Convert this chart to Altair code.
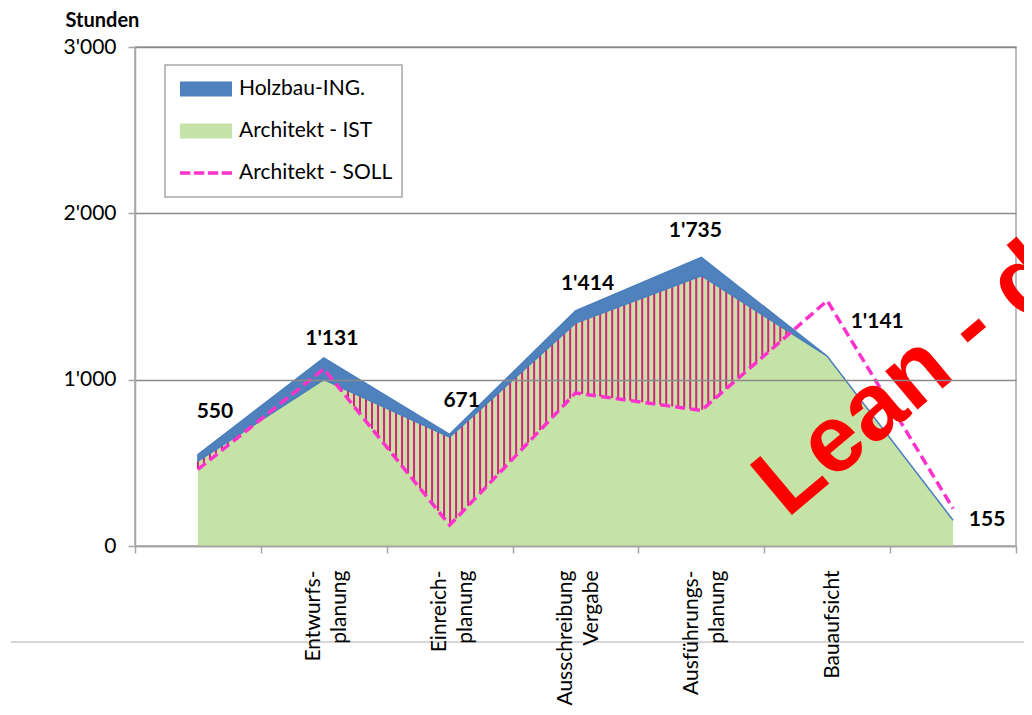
import json
import altair as alt
import pandas as pd

# ---- data ----
idx = [0, 1, 2, 3, 4, 5, 6]
phase_labels = ["", "Entwurfs-|planung", "Einreich-|planung", "Ausschreibung|Vergabe",
                "Ausführungs-|planung", "Bauaufsicht", ""]
holzbau = [40, 131, 16, 74, 110, 0, 0]          # Holzbau-ING. (on top of IST)
arch_ist = [510, 1000, 655, 1340, 1625, 1141, 155]   # Architekt - IST
arch_soll = [460, 1065, 125, 920, 815, 1475, 225]    # Architekt - SOLL
series_names = ["Holzbau-ING.", "Architekt - IST", "Architekt - SOLL"]
y_ticks = [0, 1000, 2000, 3000]
watermark = ["Lean - d"]

BLUE = "#4F81BD"
GREEN = "#C6E3A7"
PINK = "#FF33CC"
HATCH = "#DB1F7D"
GRAY = "#A6A6A6"
FONT = "Lato"
FS = 21

df = pd.DataFrame({"idx": idx, "holz": holzbau, "ist": arch_ist, "soll": arch_soll})
series_df = pd.DataFrame({"series": series_names})

y_axis = alt.Axis(
    values=y_ticks, title="Stunden", titleAngle=0, titleAlign="left", titleBaseline="middle",
    titleX=-70, titleY=-27, titleFont=FONT, titleFontSize=20, titleFontWeight="bold",
    titleColor="#000000",
    labelExpr="replace(format(datum.value, ','), ',', \"'\")",
    labelFont=FONT, labelFontSize=FS, labelColor="#000000", labelPadding=12,
    tickSize=7, tickColor=GRAY, tickWidth=1.5, domainColor=GRAY, domainWidth=1.5,
    grid=True, gridColor="#8A8A8A", gridWidth=1.3, zindex=1,
)
y_scale = alt.Scale(domain=[0, 3000], nice=False, zero=True)
x_scale = alt.Scale(domain=[-0.5, 6.5], nice=False, zero=False)


def Y(field):
    return alt.Y(field, scale=y_scale, axis=y_axis)


def X(field):
    return alt.X(field, scale=x_scale, axis=None)


base = alt.Chart(df).transform_calculate(total="datum.ist + datum.holz")

# page separator line seen in the picture
sep = alt.Chart(pd.DataFrame({"a": [0]})).mark_rule(color="#C8C8C8", strokeWidth=1.5).encode(
    x=alt.value(-124), x2=alt.value(897), y=alt.value(595)
)

green = base.mark_area(color=GREEN).encode(x=X("idx:Q"), y=Y("ist:Q"))

stripes = (
    alt.Chart(alt.sequence(0, 6, 0.0477, as_="t"))
    .transform_calculate(i="floor(datum.t)", j="floor(datum.t) + 1", f="datum.t - floor(datum.t)")
    .transform_lookup(lookup="i", from_=alt.LookupData(df, "idx", ["ist", "soll"]))
    .transform_lookup(lookup="j", from_=alt.LookupData(df, "idx", ["ist", "soll"]),
                      as_=["ist1", "soll1"])
    .transform_calculate(a="datum.ist + datum.f * (datum.ist1 - datum.ist)",
                         b="datum.soll + datum.f * (datum.soll1 - datum.soll)")
    .transform_filter("datum.a > datum.b")
    .mark_rule(color=HATCH, strokeWidth=2)
    .encode(x=X("t:Q"), y=Y("b:Q"), y2="a:Q")
)

blue = base.mark_area(color=BLUE, stroke="#4A7EBB", strokeWidth=1.5).encode(
    x=X("idx:Q"), y=Y("total:Q"), y2="ist:Q"
)

soll_line = base.mark_line(color=PINK, strokeWidth=3.5, strokeDash=[10, 5]).encode(
    x=X("idx:Q"), y=Y("soll:Q")
)

offsets = {0: (17, -43), 1: (8, -19), 2: (12, -33), 3: (12, -27), 4: (-6, -26), 5: (50, -34), 6: (34, 0)}
labels = []
for i, (dx, dy) in offsets.items():
    labels.append(
        base.transform_calculate(txt="replace(format(datum.total, ','), ',', \"'\")")
        .transform_filter(f"datum.idx == {i}")
        .mark_text(font=FONT, fontSize=FS, fontWeight="bold", color="#000000",
                   dx=dx, dy=dy, align="center", baseline="middle")
        .encode(x=X("idx:Q"), y=Y("total:Q"), text="txt:N")
    )

wm = alt.Chart(pd.DataFrame({"w": watermark})).mark_text(
    font="Liberation Sans", fontWeight="bold", fontSize=95, color="#FF0000",
    angle=320, align="left", baseline="alphabetic"
).encode(x=alt.value(652), y=alt.value(472), text="w:N")

rect_path = "M-1,-0.29H1V0.29H-1Z"
dash_path = ("M-1,-0.07H-0.6V0.07H-1Z M-0.465,-0.07H-0.065V0.07H-0.465Z "
             "M0.07,-0.07H0.47V0.07H0.07Z M0.6,-0.07H1V0.07H0.6Z")
leg = alt.Legend(
    title=None, orient="none", legendX=30, legendY=18, fillColor="white", strokeColor=GRAY,
    padding=9, symbolSize=2704, symbolStrokeWidth=0, symbolOffset=6,
    clipHeight=30, rowPadding=12, labelFont=FONT, labelFontSize=FS, labelColor="#000000",
    labelOffset=7, labelLimit=300, symbolOpacity=1,
)
legend_layer = alt.Chart(series_df).mark_point(filled=True, opacity=0).encode(
    x=alt.value(0), y=alt.value(0),
    color=alt.Color("series:N", scale=alt.Scale(domain=series_names, range=[BLUE, GREEN, PINK]),
                    legend=leg),
    shape=alt.Shape("series:N", scale=alt.Scale(domain=series_names,
                                                range=[rect_path, rect_path, dash_path]),
                    legend=leg),
)

label_expr = ("isValid(datum.value) ? split(" + json.dumps(phase_labels, ensure_ascii=False)
              + "[datum.value], '|') : ''")
x_axis_layer = alt.Chart(df).mark_point(opacity=0).encode(
    x=alt.X("idx:O", scale=alt.Scale(type="band", paddingInner=0, paddingOuter=0),
            axis=alt.Axis(title=None, tickBand="extent", labelAngle=270, labelExpr=label_expr,
                          labelOffset={"condition": {"test": "datum.value == 5", "value": 5},
                                       "value": -10},
                          labelFont=FONT, labelFontSize=FS, labelColor="#000000",
                          labelLineHeight=26, labelPadding=17, labelLimit=300,
                          tickSize=7, tickColor=GRAY, tickWidth=1.5,
                          domainColor=GRAY, domainWidth=1.5, grid=False, zindex=1)),
    y=alt.value(0),
)

chart = (
    alt.layer(sep, green, stripes, blue, soll_line, *labels, wm, legend_layer, x_axis_layer)
    .resolve_scale(x="independent")
    .properties(width=881, height=499, autosize=alt.AutoSizeParams(type="none"),
                padding={"left": 127, "top": 39, "right": 8, "bottom": 161})
    .configure_view(stroke=GRAY, strokeWidth=1.5)
    .configure_legend(strokeWidth=1.5)
)

chart.save("out.html", embed_options={"renderer": "svg", "actions": False})
